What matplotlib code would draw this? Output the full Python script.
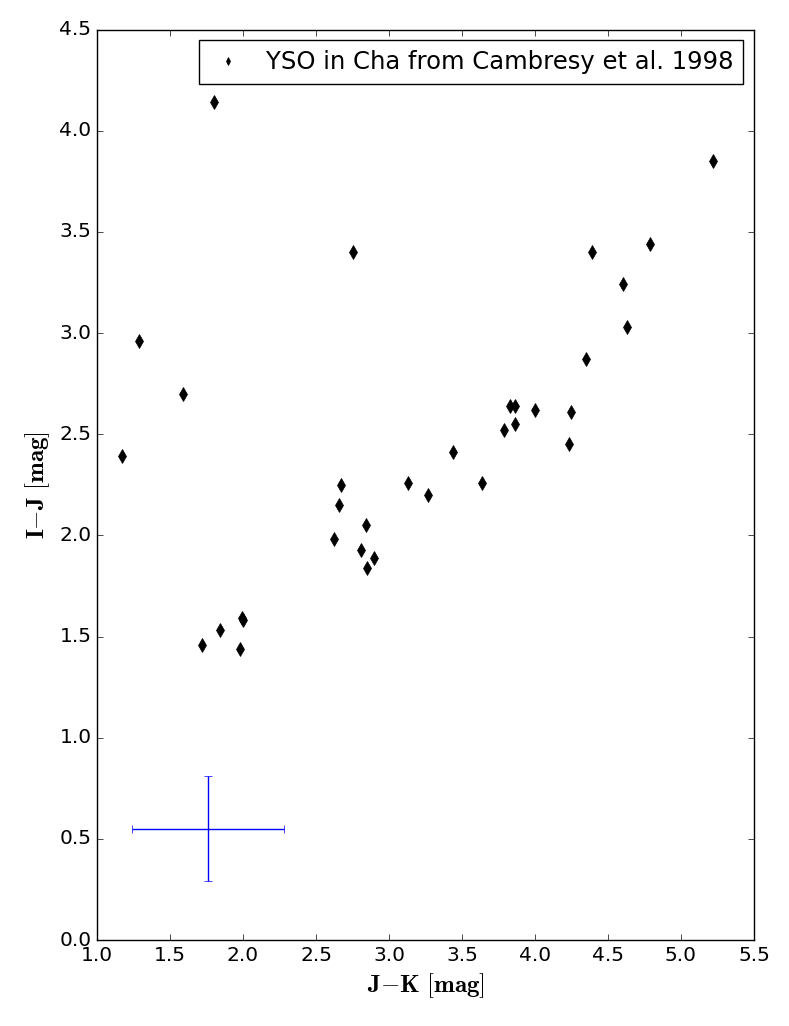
import matplotlib
matplotlib.use("Agg")
import matplotlib.pyplot as plt

plt.style.use("classic")
plt.rcParams['mathtext.fontset'] = 'cm'
plt.rcParams['font.family'] = ['DejaVu Sans']

jk = [1.80, 2.75, 1.29, 1.59, 1.17, 2.67, 2.66, 2.84, 2.62, 2.81, 2.90, 2.85,
      3.13, 3.27, 3.44, 3.64, 1.99, 2.00, 1.84, 1.72, 1.98,
      5.22, 4.79, 4.39, 4.60, 4.63, 4.35, 3.83, 3.86, 4.00, 4.25, 3.86, 3.79, 4.23]
ij = [4.14, 3.40, 2.96, 2.70, 2.39, 2.25, 2.15, 2.05, 1.98, 1.93, 1.89, 1.84,
      2.26, 2.20, 2.41, 2.26, 1.59, 1.58, 1.53, 1.46, 1.44,
      3.85, 3.44, 3.40, 3.24, 3.03, 2.87, 2.64, 2.64, 2.62, 2.61, 2.55, 2.52, 2.45]

err_x = [1.76]
err_y = [0.55]
err_xerr = [0.52]
err_yerr = [0.26]

fig = plt.figure(figsize=(7.89, 10.26), dpi=100)
ax = fig.add_axes([0.123, 0.0838, 0.8326, 0.8874])
ax.plot(jk, ij, 'd', color='k', markersize=7, label='YSO in Cha from Cambresy et al. 1998')
ax.errorbar(err_x, err_y, xerr=err_xerr, yerr=err_yerr, fmt='none', ecolor='b', capsize=3)
ax.set_xlim(1.0, 5.5)
ax.set_ylim(0.0, 4.5)
ax.set_xticks([1.0, 1.5, 2.0, 2.5, 3.0, 3.5, 4.0, 4.5, 5.0, 5.5])
ax.set_yticks([0.0, 0.5, 1.0, 1.5, 2.0, 2.5, 3.0, 3.5, 4.0, 4.5])
ax.tick_params(labelsize=14.5)
ax.set_xlabel(r'$\mathbf{J{-}K}\ [\mathbf{mag}]$', fontsize=18)
ax.set_ylabel(r'$\mathbf{I{-}J}\ [\mathbf{mag}]$', fontsize=18)
ax.legend(loc='upper right', numpoints=1, fontsize=17.5, markerscale=0.6,
          borderaxespad=0.45, handlelength=1.55)
fig.savefig('out.png', dpi=100)
